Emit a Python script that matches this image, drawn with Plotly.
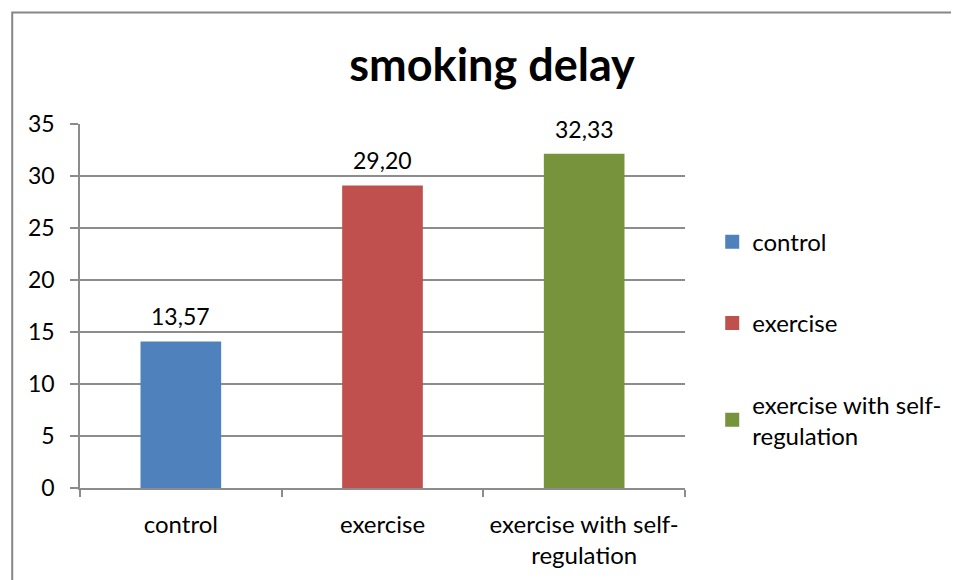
import plotly.graph_objects as go

categories = ["control", "exercise", "exercise with self-<br>regulation"]
bar_values = [14.0, 29.0, 32.05]
value_labels = ["13,57", "29,20", "32,33"]
colors = ["#4F81BD", "#C0504D", "#77933C"]
y_ticks = [0, 5, 10, 15, 20, 25, 30, 35]

FONT = "Lato, Calibri, Carlito, sans-serif"
GRID = "#8C8C8C"

fig = go.Figure()
for i, (cat, val, col) in enumerate(zip(categories, bar_values, colors)):
    fig.add_trace(go.Bar(
        x=[cat], y=[val], name=cat,
        marker=dict(color=col, line=dict(width=2, color=col)),
        legendgroup=f"g{i}", width=0.39,
    ))

for cat, val, lab in zip(categories, bar_values, value_labels):
    fig.add_annotation(x=cat, y=val, text=lab, showarrow=False,
                       yanchor="middle", yshift=26,
                       font=dict(size=23, family=FONT, color="#000000"))

fig.update_layout(
    width=951, height=572,
    margin=dict(l=72, r=272, t=116, b=92),
    paper_bgcolor="white", plot_bgcolor="white",
    font=dict(family=FONT, size=24, color="#000000"),
    title=dict(text="<b>smoking delay</b>", x=0.509, xanchor="center",
               y=0.900, yanchor="middle",
               font=dict(size=45, family=FONT, color="#000000")),
    barmode="group", bargap=0.6,
    showlegend=True,
    legend=dict(x=1.045, xanchor="left", y=0.41, yanchor="middle",
                font=dict(size=24, family=FONT), tracegroupgap=47,
                itemwidth=30, bgcolor="rgba(0,0,0,0)"),
    xaxis=dict(type="category", categoryorder="array", categoryarray=categories,
               showline=True, linecolor=GRID, linewidth=1.5,
               ticks="outside", ticklen=7, tickcolor=GRID, tickwidth=1.5,
               tickson="boundaries", showgrid=False, ticklabelstandoff=14,
               tickfont=dict(size=24, family=FONT)),
    yaxis=dict(range=[0, 35], tickvals=y_ticks, showline=True, linecolor=GRID,
               linewidth=1.5, ticks="outside", ticklen=8, tickcolor=GRID,
               tickwidth=1.5, showgrid=True, gridcolor=GRID, gridwidth=1.5,
               zeroline=False, ticklabelstandoff=11,
               tickfont=dict(size=23, family=FONT)),
)

# chart-area border (partially visible, like the cropped Excel chart)
fig.add_shape(type="rect", xref="paper", yref="paper",
              x0=(12 - 80) / 607, x1=2.0, y0=-1.0, y1=(488 - 12.5) / 364,
              line=dict(color="#868686", width=2), fillcolor="rgba(0,0,0,0)",
              layer="below")

fig.write_html("out.html")
